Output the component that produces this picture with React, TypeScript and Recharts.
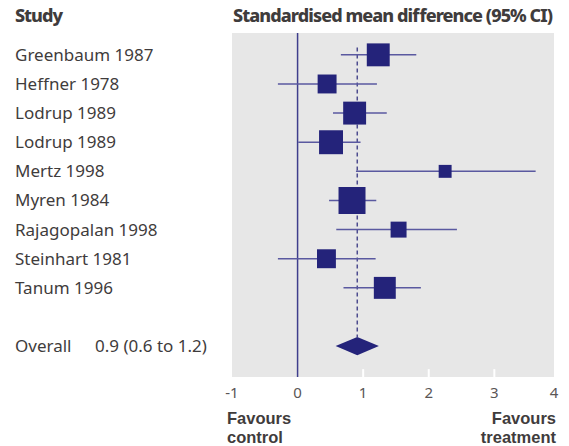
import React from "react";
import {
  CartesianGrid,
  ErrorBar,
  ReferenceArea,
  ReferenceLine,
  Scatter,
  ScatterChart,
  XAxis,
  YAxis,
  ZAxis,
} from "recharts";

const studies = [
  "Greenbaum 1987",
  "Heffner 1978",
  "Lodrup 1989",
  "Lodrup 1989",
  "Mertz 1998",
  "Myren 1984",
  "Rajagopalan 1998",
  "Steinhart 1981",
  "Tanum 1996",
];
const smd = [1.23, 0.45, 0.87, 0.51, 2.25, 0.83, 1.54, 0.44, 1.33];
const lower = [0.66, -0.3, 0.54, 0.01, 0.89, 0.48, 0.59, -0.3, 0.7];
const upper = [1.81, 1.21, 1.36, 0.96, 3.63, 1.2, 2.43, 1.19, 1.88];
const weights = [13.2, 9.0, 13.2, 14.4, 4.2, 18.3, 6.4, 9.0, 12.1];

const overallLabel = "Overall";
const overallText = "0.9 (0.6 to 1.2)";
const overallMean = 0.91;
const overallLower = 0.58;
const overallUpper = 1.24;
const overallRow = 10;

const xTicks = [-1, 0, 1, 2, 3, 4];
// the shaded panel stops a little short of 4; the "4" label sits at its edge
const xEdge = 3.91;

const NAVY = "#24237a";
const CI_LINE = "#5a59a0";
const TEXT = "#3f3c3c";
const FONT = "'Noto Sans', sans-serif";

const rows = studies.map((name, i) => ({
  name,
  row: i,
  mean: smd[i],
  weight: weights[i],
  err: [smd[i] - lower[i], upper[i] - smd[i]],
}));

const rowTicks = [...studies.map((_, i) => i), overallRow];
const axisTicks = xTicks.map((t) => Math.min(t, xEdge));

const RowLabel = (props: any) => {
  const { y, payload } = props;
  const i = payload.value;
  const style = { fontFamily: FONT, fontSize: 17, fill: TEXT };
  if (i === overallRow) {
    return (
      <g>
        <text x={15} y={y} dy="0.35em" {...style}>
          {overallLabel}
        </text>
        <text x={95} y={y} dy="0.35em" {...style}>
          {overallText}
        </text>
      </g>
    );
  }
  return (
    <text x={15} y={y} dy="0.35em" {...style}>
      {studies[i]}
    </text>
  );
};

const Diamond = (props: any) => {
  const { x, y, width, height } = props;
  const cx = x + ((overallMean - overallLower) / (overallUpper - overallLower)) * width;
  const cy = y + height / 2;
  return (
    <polygon
      points={`${x},${cy} ${cx},${y} ${x + width},${cy} ${cx},${y + height}`}
      fill={NAVY}
    />
  );
};

const favoursStyle: React.CSSProperties = {
  position: "absolute",
  top: 409,
  fontFamily: "'Liberation Sans', Arial, sans-serif",
  fontWeight: 700,
  fontSize: 16.5,
  lineHeight: "18.5px",
  color: TEXT,
};

export default function App() {
  return (
    <div style={{ position: "absolute", left: 0, top: 0, width: 569, height: 446 }}>
      <ScatterChart
        width={569}
        height={446}
        margin={{ top: 33, right: 15, bottom: 39, left: 0 }}
      >
        <CartesianGrid horizontal={false} vertical={false} fill="#e7e7e7" stroke="none" />
        <XAxis
          type="number"
          dataKey="mean"
          domain={[-1, xEdge]}
          ticks={axisTicks}
          tickFormatter={(v) => String(xTicks[axisTicks.indexOf(v)])}
          allowDataOverflow
          axisLine={false}
          tickLine={false}
          tickSize={0}
          tickMargin={10}
          height={30}
          interval={0}
          tick={{ fontFamily: FONT, fontSize: 15, fill: "#5a5656" }}
        />
        <YAxis
          type="number"
          dataKey="row"
          domain={[-0.75, 11.06]}
          reversed
          ticks={rowTicks}
          interval={0}
          width={232}
          axisLine={false}
          tickLine={false}
          tick={<RowLabel />}
        />
        <ZAxis type="number" dataKey="weight" domain={[0, 20]} range={[0, 796]} />
        {xTicks
          .filter((t) => t > 0 && t < 4)
          .map((t) => (
            <ReferenceLine
              key={t}
              segment={[
                { x: t, y: 10.79 },
                { x: t, y: 11.06 },
              ]}
              stroke="#ffffff"
              strokeWidth={2}
            />
          ))}
        <ReferenceLine x={0} stroke="#3e3d8c" strokeWidth={1.5} />
        <ReferenceLine
          segment={[
            { x: overallMean, y: -0.25 },
            { x: overallMean, y: overallRow - 0.3 },
          ]}
          stroke="#4d4c8f"
          strokeWidth={1.5}
          strokeDasharray="4 3"
        />
        <Scatter data={rows} shape="square" fill={NAVY} isAnimationActive={false}>
          <ErrorBar
            dataKey="err"
            direction="x"
            width={0}
            stroke={CI_LINE}
            strokeWidth={1.5}
            isAnimationActive={false}
          />
        </Scatter>
        <ReferenceArea
          x1={overallLower}
          x2={overallUpper}
          y1={overallRow - 0.31}
          y2={overallRow + 0.31}
          shape={<Diamond />}
        />
      </ScatterChart>
      <svg
        width={569}
        height={40}
        style={{ position: "absolute", left: 0, top: 0, pointerEvents: "none" }}
      >
        <g
          fontFamily={FONT}
          fontWeight={800}
          fontSize={18}
          fill={TEXT}
          lengthAdjust="spacingAndGlyphs"
        >
          <text x={15} y={22} textLength={48}>
            Study
          </text>
          <text x={233} y={22} textLength={320}>
            Standardised mean difference (95% CI)
          </text>
        </g>
      </svg>
      <div style={{ ...favoursStyle, left: 227, textAlign: "left" }}>
        Favours
        <br />
        control
      </div>
      <div style={{ ...favoursStyle, right: 13, textAlign: "right" }}>
        Favours
        <br />
        treatment
      </div>
    </div>
  );
}
